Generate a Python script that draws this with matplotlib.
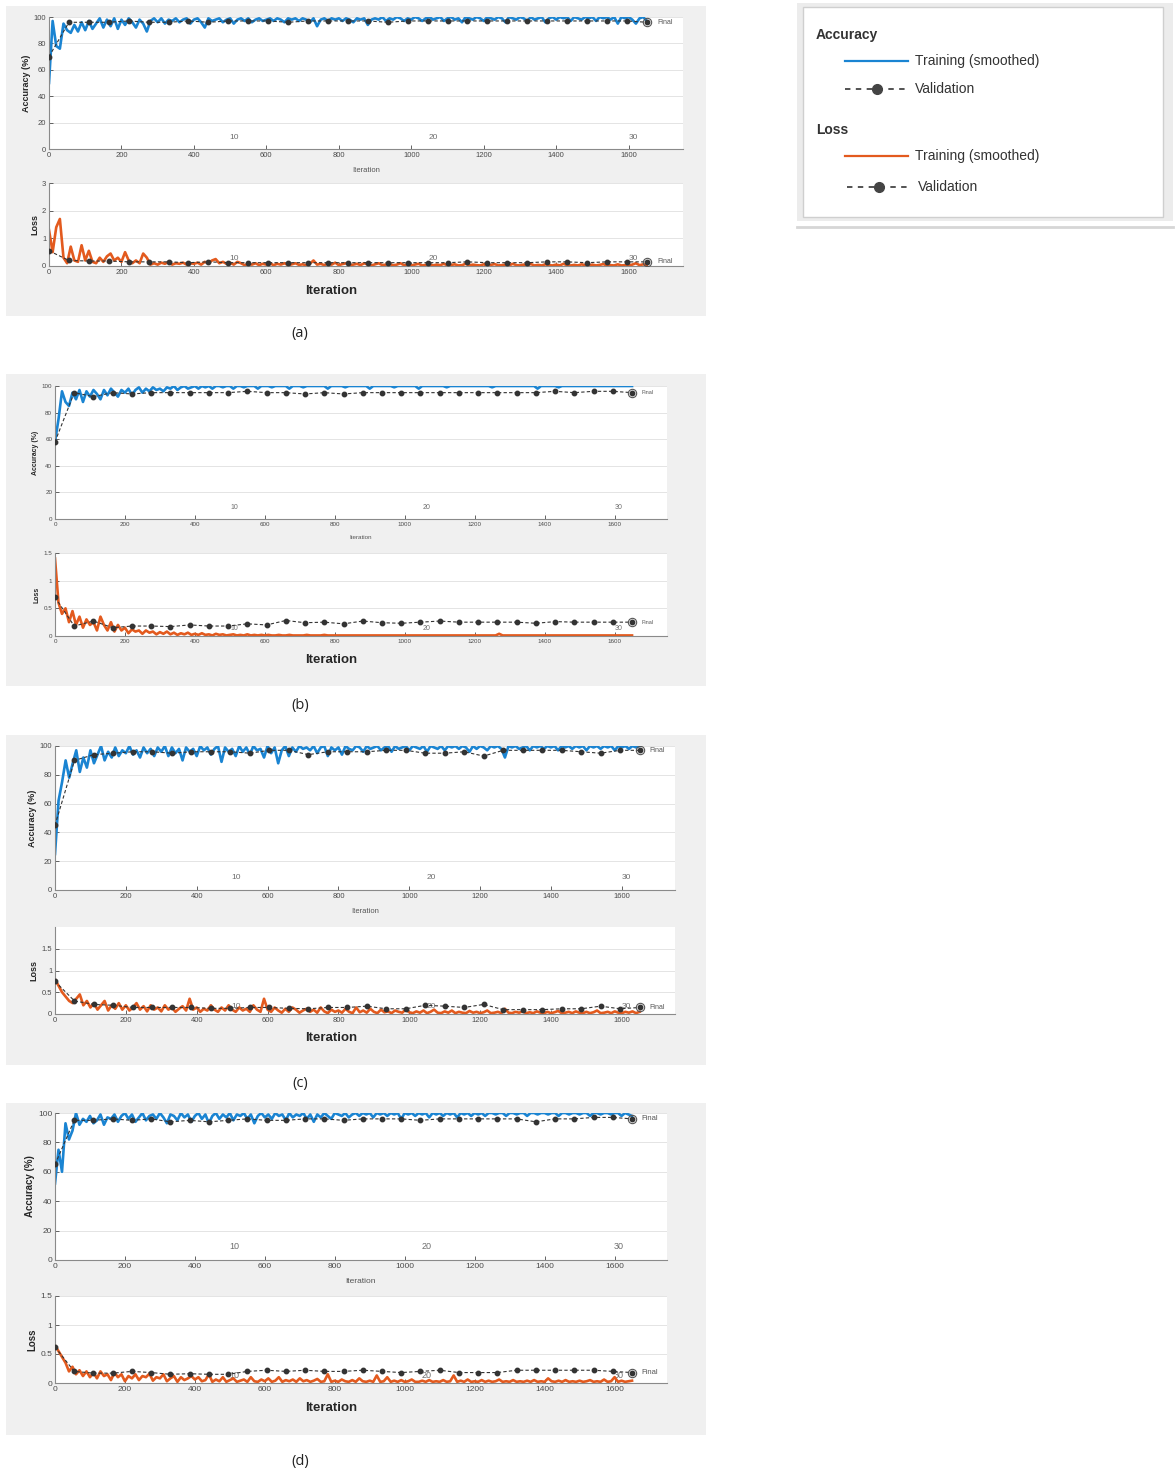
import numpy as np
import matplotlib
matplotlib.use("Agg")
import matplotlib.pyplot as plt
from matplotlib.patches import Rectangle
from matplotlib.ticker import FuncFormatter
import matplotlib.transforms as mtransforms

plt.rcParams['font.family'] = ['Liberation Sans', 'DejaVu Sans']

# ---- data ----
n_iter = 1650                      # 30 epochs, 55 iterations each
epochs = [10, 20, 30]
iter_ticks = [0, 200, 400, 600, 800, 1000, 1200, 1400, 1600]

# training curves: one value every 10 iterations (0 .. 1650)
# (a)
acc_a_train = [50, 97, 78, 76, 95, 90, 88, 94, 89, 96,
               90, 97, 91, 95, 99, 92, 98, 93, 99, 91,
               98, 94, 99, 96, 92, 98, 95, 89, 97, 99,
               96, 99, 95, 98, 97, 99, 96, 98, 99, 95,
               98, 99, 96, 92, 99, 97, 98, 99, 96, 98,
               99, 95, 98, 99, 97, 99, 96, 98, 99, 97,
               98, 99, 97, 99, 98, 96, 99, 98, 99, 97,
               99, 98, 96, 99, 93, 98, 99, 97, 99, 98,
               99, 97, 99, 98, 96, 99, 98, 99, 94, 98,
               99, 98, 100, 97, 99, 98, 100, 99, 97, 99,
               98, 100, 99, 97, 99, 100, 98, 99, 100, 97,
               99, 100, 98, 99, 96, 100, 99, 98, 100, 99,
               97, 100, 99, 98, 100, 99, 96, 100, 99, 98,
               100, 99, 97, 100, 98, 99, 100, 96, 99, 100,
               98, 100, 99, 100, 97, 100, 99, 98, 100, 99,
               100, 97, 100, 99, 100, 98, 100, 95, 100, 99,
               100, 98, 95, 99, 100, 97]
acc_a_val = [70, 96, 96, 96, 97, 96, 96, 97, 96, 97, 97, 97, 96, 97, 97, 97,
             97, 96, 97, 97, 97, 97, 97, 97, 97, 97, 97, 97, 97, 97, 96]
loss_a_train = [1.3, 0.5, 1.4, 1.7, 0.3, 0.1, 0.7, 0.2, 0.15, 0.75,
                0.2, 0.55, 0.15, 0.1, 0.3, 0.15, 0.35, 0.45, 0.2, 0.3,
                0.15, 0.5, 0.2, 0.1, 0.2, 0.1, 0.45, 0.3, 0.05, 0.1,
                0.05, 0.12, 0.08, 0.15, 0.05, 0.1, 0.08, 0.12, 0.05, 0.1,
                0.08, 0.12, 0.05, 0.15, 0.1, 0.2, 0.25, 0.1, 0.15, 0.08,
                0.12, 0.05, 0.15, 0.1, 0.03, 0.08, 0.05, 0.1, 0.03, 0.08,
                0.05, 0.1, 0.03, 0.08, 0.05, 0.1, 0.03, 0.06, 0.1, 0.04,
                0.06, 0.03, 0.08, 0.2, 0.05, 0.08, 0.03, 0.1, 0.05, 0.12,
                0.03, 0.07, 0.1, 0.03, 0.05, 0.08, 0.03, 0.1, 0.05, 0.02,
                0.06, 0.1, 0.03, 0.05, 0.08, 0.02, 0.05, 0.1, 0.03, 0.06,
                0.02, 0.05, 0.08, 0.02, 0.04, 0.07, 0.02, 0.05, 0.03, 0.08,
                0.02, 0.04, 0.06, 0.02, 0.03, 0.08, 0.02, 0.05, 0.03, 0.02,
                0.06, 0.02, 0.04, 0.07, 0.02, 0.03, 0.05, 0.02, 0.08, 0.03,
                0.02, 0.05, 0.03, 0.07, 0.02, 0.04, 0.02, 0.06, 0.03, 0.02,
                0.05, 0.02, 0.08, 0.03, 0.02, 0.04, 0.02, 0.06, 0.03, 0.02,
                0.05, 0.02, 0.04, 0.07, 0.02, 0.03, 0.02, 0.06, 0.02, 0.03,
                0.02, 0.05, 0.1, 0.03, 0.06, 0.04]
loss_a_val = [0.55, 0.2, 0.18, 0.18, 0.15, 0.15, 0.15, 0.12, 0.15, 0.12, 0.12,
              0.12, 0.12, 0.12, 0.12, 0.12, 0.12, 0.12, 0.12, 0.12, 0.12, 0.15,
              0.12, 0.12, 0.12, 0.15, 0.15, 0.12, 0.15, 0.15, 0.15]

# (b)
acc_b_train = [58, 75, 96, 88, 85, 95, 90, 97, 88, 96,
               92, 97, 94, 90, 97, 93, 98, 95, 92, 97,
               95, 98, 93, 97, 99, 95, 98, 96, 99, 97,
               98, 96, 99, 98, 100, 97, 99, 100, 98, 99,
               100, 98, 100, 99, 100, 98, 100, 100, 99, 100,
               100, 98, 100, 100, 99, 100, 100, 100, 98, 100,
               100, 100, 99, 100, 100, 100, 100, 98, 100, 100,
               100, 99, 100, 100, 100, 100, 100, 100, 98, 100,
               100, 100, 100, 99, 100, 100, 100, 100, 100, 100,
               98, 100, 100, 100, 100, 100, 100, 99, 100, 100,
               100, 100, 100, 100, 98, 100, 100, 100, 100, 100,
               100, 100, 99, 100, 100, 100, 100, 100, 100, 100,
               100, 100, 100, 100, 100, 99, 100, 100, 100, 100,
               100, 100, 100, 100, 100, 100, 100, 100, 98, 100,
               100, 100, 100, 100, 99, 100, 100, 100, 100, 100,
               100, 100, 100, 100, 100, 100, 100, 100, 100, 100,
               100, 100, 100, 100, 100, 100]
acc_b_val = [58, 95, 92, 95, 94, 95, 95, 95, 95, 95, 96, 95, 95, 94, 95, 94,
             95, 95, 95, 95, 95, 95, 95, 95, 95, 95, 96, 95, 96, 96, 95]
loss_b_train = [1.4, 0.6, 0.4, 0.5, 0.25, 0.45, 0.2, 0.35, 0.15, 0.3,
                0.2, 0.25, 0.1, 0.35, 0.2, 0.1, 0.25, 0.08, 0.2, 0.1,
                0.15, 0.05, 0.12, 0.08, 0.1, 0.04, 0.1, 0.06, 0.08, 0.03,
                0.07, 0.04, 0.08, 0.03, 0.06, 0.02, 0.05, 0.03, 0.06, 0.02,
                0.04, 0.02, 0.05, 0.02, 0.03, 0.01, 0.04, 0.02, 0.03, 0.01,
                0.02, 0.03, 0.01, 0.02, 0.01, 0.03, 0.01, 0.02, 0.01, 0.02,
                0.01, 0.02, 0.01, 0.01, 0.02, 0.01, 0.01, 0.02, 0.01, 0.01,
                0.01, 0.01, 0.02, 0.01, 0.01, 0.01, 0.01, 0.02, 0.01, 0.01,
                0.01, 0.01, 0.01, 0.01, 0.01, 0.01, 0.01, 0.01, 0.01, 0.01,
                0.01, 0.01, 0.01, 0.01, 0.01, 0.01, 0.01, 0.01, 0.01, 0.01,
                0.01, 0.01, 0.01, 0.01, 0.01, 0.01, 0.01, 0.01, 0.01, 0.01,
                0.01, 0.01, 0.01, 0.01, 0.01, 0.01, 0.01, 0.01, 0.01, 0.01,
                0.01, 0.01, 0.01, 0.01, 0.01, 0.01, 0.01, 0.04, 0.01, 0.01,
                0.01, 0.01, 0.01, 0.01, 0.01, 0.01, 0.01, 0.01, 0.01, 0.01,
                0.01, 0.01, 0.01, 0.01, 0.01, 0.01, 0.01, 0.01, 0.01, 0.01,
                0.01, 0.01, 0.01, 0.01, 0.01, 0.01, 0.01, 0.01, 0.01, 0.01,
                0.01, 0.01, 0.01, 0.01, 0.01, 0.01]
loss_b_val = [0.7, 0.18, 0.27, 0.15, 0.18, 0.18, 0.17, 0.2, 0.18, 0.18, 0.22,
              0.2, 0.28, 0.24, 0.25, 0.22, 0.27, 0.24, 0.23, 0.25, 0.27, 0.25,
              0.25, 0.25, 0.25, 0.23, 0.26, 0.25, 0.25, 0.25, 0.25]

# (c)
acc_c_train = [25, 62, 75, 90, 78, 88, 97, 82, 92, 85,
               97, 88, 94, 100, 90, 96, 92, 99, 93, 97,
               95, 100, 94, 97, 92, 99, 95, 98, 93, 99,
               96, 100, 93, 99, 95, 98, 90, 99, 96, 98,
               93, 100, 97, 99, 94, 98, 100, 89, 99, 96,
               98, 93, 100, 96, 99, 94, 100, 97, 98, 92,
               100, 95, 99, 88, 97, 100, 93, 99, 96, 100,
               98, 99, 97, 100, 95, 99, 100, 93, 99, 97,
               99, 94, 100, 98, 97, 100, 99, 96, 100, 98,
               99, 100, 97, 99, 100, 96, 100, 98, 99, 100,
               97, 100, 99, 98, 100, 96, 100, 99, 98, 100,
               97, 100, 99, 100, 98, 100, 99, 96, 100, 98,
               100, 99, 97, 100, 99, 100, 98, 92, 100, 99,
               100, 98, 99, 100, 97, 100, 99, 100, 98, 100,
               99, 100, 97, 100, 99, 100, 98, 100, 99, 100,
               97, 100, 99, 100, 98, 100, 99, 100, 97, 100,
               99, 100, 98, 100, 99, 100]
acc_c_val = [45, 90, 94, 95, 96, 96, 95, 96, 96, 96, 95, 97, 97, 94, 96, 96,
             96, 97, 97, 95, 95, 96, 93, 97, 97, 97, 97, 96, 95, 97, 97]
loss_c_train = [0.8, 0.65, 0.5, 0.4, 0.3, 0.25, 0.35, 0.45, 0.2, 0.3,
                0.15, 0.25, 0.1, 0.2, 0.3, 0.08, 0.2, 0.12, 0.25, 0.1,
                0.2, 0.08, 0.15, 0.25, 0.1, 0.18, 0.06, 0.2, 0.1, 0.15,
                0.06, 0.2, 0.1, 0.15, 0.05, 0.12, 0.18, 0.08, 0.35, 0.1,
                0.15, 0.05, 0.12, 0.08, 0.2, 0.1, 0.05, 0.15, 0.08, 0.2,
                0.1, 0.05, 0.15, 0.08, 0.12, 0.05, 0.2, 0.1, 0.05, 0.35,
                0.1, 0.05, 0.15, 0.08, 0.03, 0.12, 0.05, 0.15, 0.1, 0.03,
                0.08, 0.12, 0.05, 0.1, 0.03, 0.15, 0.06, 0.02, 0.1, 0.05,
                0.08, 0.03, 0.12, 0.05, 0.02, 0.15, 0.04, 0.08, 0.03, 0.12,
                0.05, 0.02, 0.1, 0.04, 0.06, 0.02, 0.08, 0.05, 0.03, 0.1,
                0.04, 0.02, 0.06, 0.03, 0.08, 0.02, 0.05, 0.1, 0.03, 0.02,
                0.06, 0.03, 0.08, 0.02, 0.05, 0.03, 0.02, 0.07, 0.03, 0.05,
                0.02, 0.04, 0.08, 0.02, 0.03, 0.05, 0.02, 0.12, 0.03, 0.02,
                0.05, 0.03, 0.06, 0.02, 0.04, 0.02, 0.06, 0.03, 0.02, 0.05,
                0.02, 0.04, 0.07, 0.02, 0.03, 0.05, 0.02, 0.06, 0.03, 0.02,
                0.05, 0.02, 0.04, 0.08, 0.02, 0.03, 0.05, 0.02, 0.06, 0.03,
                0.02, 0.05, 0.03, 0.06, 0.02, 0.05]
loss_c_val = [0.75, 0.3, 0.22, 0.2, 0.15, 0.15, 0.15, 0.15, 0.13, 0.13, 0.15,
              0.15, 0.13, 0.12, 0.15, 0.15, 0.18, 0.12, 0.12, 0.2, 0.18, 0.15,
              0.22, 0.1, 0.1, 0.1, 0.12, 0.12, 0.18, 0.12, 0.15]

# (d)
acc_d_train = [52, 75, 60, 93, 82, 88, 100, 92, 96, 94,
               98, 93, 95, 99, 92, 97, 96, 99, 94, 98,
               100, 96, 99, 94, 97, 100, 95, 98, 99, 96,
               100, 97, 93, 99, 98, 95, 100, 97, 99, 94,
               98, 100, 96, 99, 93, 98, 100, 96, 99, 97,
               100, 95, 99, 98, 100, 96, 99, 93, 98, 100,
               97, 99, 96, 100, 98, 99, 95, 100, 97, 99,
               98, 100, 96, 99, 94, 99, 97, 100, 98, 96,
               100, 99, 98, 100, 97, 99, 100, 98, 100, 99,
               100, 97, 100, 99, 100, 98, 100, 99, 100, 96,
               100, 99, 100, 98, 100, 99, 100, 97, 100, 99,
               100, 98, 100, 99, 100, 97, 100, 99, 100, 98,
               100, 99, 100, 98, 100, 100, 99, 100, 100, 98,
               100, 100, 99, 100, 100, 98, 100, 100, 99, 100,
               100, 99, 100, 100, 98, 100, 100, 99, 100, 100,
               99, 100, 100, 98, 100, 100, 99, 100, 100, 99,
               100, 100, 98, 100, 99, 98]
acc_d_val = [65, 95, 95, 96, 95, 96, 94, 95, 94, 95, 96, 95, 95, 96, 96, 95,
             96, 96, 96, 95, 96, 96, 96, 96, 96, 94, 96, 96, 97, 97, 96]
loss_d_train = [0.65, 0.55, 0.45, 0.35, 0.2, 0.28, 0.15, 0.22, 0.12, 0.2,
                0.1, 0.18, 0.08, 0.2, 0.12, 0.15, 0.05, 0.18, 0.1, 0.15,
                0.03, 0.12, 0.08, 0.15, 0.05, 0.12, 0.1, 0.16, 0.04, 0.1,
                0.08, 0.15, 0.03, 0.08, 0.12, 0.02, 0.1, 0.05, 0.08, 0.12,
                0.06, 0.1, 0.03, 0.05, 0.15, 0.02, 0.06, 0.03, 0.1, 0.02,
                0.05, 0.08, 0.02, 0.04, 0.06, 0.02, 0.1, 0.03, 0.02, 0.06,
                0.03, 0.08, 0.02, 0.04, 0.1, 0.02, 0.05, 0.03, 0.06, 0.02,
                0.08, 0.03, 0.05, 0.02, 0.04, 0.07, 0.02, 0.03, 0.15, 0.02,
                0.04, 0.02, 0.06, 0.03, 0.02, 0.05, 0.02, 0.08, 0.03, 0.02,
                0.04, 0.02, 0.13, 0.02, 0.03, 0.1, 0.02, 0.04, 0.02, 0.05,
                0.02, 0.03, 0.06, 0.02, 0.02, 0.04, 0.02, 0.05, 0.02, 0.03,
                0.02, 0.05, 0.02, 0.03, 0.13, 0.02, 0.04, 0.02, 0.06, 0.02,
                0.03, 0.02, 0.05, 0.02, 0.04, 0.02, 0.03, 0.06, 0.02, 0.03,
                0.02, 0.05, 0.02, 0.03, 0.02, 0.04, 0.02, 0.05, 0.02, 0.03,
                0.02, 0.08, 0.03, 0.02, 0.04, 0.02, 0.05, 0.02, 0.03, 0.02,
                0.04, 0.02, 0.03, 0.05, 0.02, 0.03, 0.02, 0.06, 0.02, 0.03,
                0.1, 0.02, 0.04, 0.02, 0.03, 0.04]
loss_d_val = [0.62, 0.2, 0.17, 0.17, 0.2, 0.18, 0.15, 0.16, 0.15, 0.15, 0.2,
              0.22, 0.2, 0.22, 0.2, 0.2, 0.22, 0.2, 0.18, 0.2, 0.22, 0.18,
              0.18, 0.18, 0.22, 0.22, 0.22, 0.22, 0.22, 0.2, 0.18]

# ---- styles / layout (pixels) ----
W, H = 1176, 1473
BLUE = '#1a84d2'
ORANGE = '#e35a1e'
VAL = '#333333'

layout = [
    dict(cap='(a)', bg=(6, 6, 706, 316), acc=(49, 17, 683, 149), loss=(49, 183, 683, 266),
         it=291, cy=333, fs=5.5, lfs=6.5, lylim=(0, 3), lticks=[0, 1, 2, 3],
         data=(acc_a_train, acc_a_val, loss_a_train, loss_a_val)),
    dict(cap='(b)', bg=(6, 374, 706, 686), acc=(55, 386, 667, 519), loss=(55, 553, 667, 636),
         it=660, cy=705, fs=4.5, lfs=5, lylim=(0, 1.5), lticks=[0, 0.5, 1, 1.5],
         data=(acc_b_train, acc_b_val, loss_b_train, loss_b_val)),
    dict(cap='(c)', bg=(6, 735, 706, 1065), acc=(55, 746, 675, 890), loss=(55, 927, 675, 1014),
         it=1038, cy=1083, fs=5.5, lfs=6.5, lylim=(0, 2), lticks=[0, 0.5, 1, 1.5],
         data=(acc_c_train, acc_c_val, loss_c_train, loss_c_val)),
    dict(cap='(d)', bg=(6, 1103, 706, 1435), acc=(55, 1113, 667, 1260), loss=(55, 1296, 667, 1383),
         it=1408, cy=1462, fs=6, lfs=7, lylim=(0, 1.5), lticks=[0, 0.5, 1, 1.5],
         data=(acc_d_train, acc_d_val, loss_d_train, loss_d_val)),
]


def rect(box):
    x0, y0, x1, y1 = box
    return [x0 / W, 1 - y1 / H, (x1 - x0) / W, (y1 - y0) / H]


def style(ax, ylim, yticks, ylabel, fs, lfs):
    ax.set_xlim(0, 1750)
    ax.set_ylim(*ylim)
    ax.set_xticks(iter_ticks)
    ax.set_yticks(yticks)
    ax.yaxis.set_major_formatter(FuncFormatter(lambda v, p: f"{v:g}"))
    ax.tick_params(direction='in', length=3, width=0.6, labelsize=fs,
                   colors='#4a4a4a', pad=2)
    for s in ['top', 'right']:
        ax.spines[s].set_visible(False)
    for s in ['left', 'bottom']:
        ax.spines[s].set_color('#8a8a8a')
        ax.spines[s].set_linewidth(0.8)
    ax.grid(axis='y', color='#e4e4e4', lw=0.7)
    ax.set_axisbelow(True)
    ax.set_ylabel(ylabel, fontsize=lfs, color='#262626', fontweight='bold', labelpad=2)
    trans = mtransforms.blended_transform_factory(ax.transData, ax.transAxes)
    for e in epochs:
        ax.text(e * 55 - 38, 0.09, str(e), transform=trans, fontsize=fs + 0.5,
                color='#6e6e6e', ha='center', va='center', zorder=1)


def draw(ax, train, val, color, fs):
    xt = np.linspace(0, n_iter, len(train))
    xv = np.linspace(0, n_iter, len(val))
    ax.plot(xt, train, color=color, lw=1.9, zorder=2)
    ax.plot(xv, val, color=VAL, lw=0.8, ls='--', dashes=(3, 2), marker='o',
            ms=3.2, mfc=VAL, mec=VAL, zorder=3)
    ax.plot(xv[-1], val[-1], 'o', ms=6, mfc='none', mec='#555555', mew=0.8, zorder=4)
    ax.text(xv[-1] + 28, val[-1], 'Final', fontsize=fs - 0.5, color='#555555',
            ha='left', va='center')


fig = plt.figure(figsize=(W / 100, H / 100), dpi=100, facecolor='white')
bg = fig.add_axes([0, 0, 1, 1], zorder=0)
bg.set_xlim(0, W)
bg.set_ylim(H, 0)
bg.axis('off')

for p in layout:
    x0, y0, x1, y1 = p['bg']
    bg.add_patch(Rectangle((x0, y0), x1 - x0, y1 - y0, facecolor='#f0f0f0', edgecolor='none'))
    acc_tr, acc_v, loss_tr, loss_v = p['data']

    ax1 = fig.add_axes(rect(p['acc']), zorder=1)
    style(ax1, (0, 100), [0, 20, 40, 60, 80, 100], 'Accuracy (%)', p['fs'], p['lfs'])
    draw(ax1, acc_tr, acc_v, BLUE, p['fs'])
    ax1.set_xlabel('Iteration', fontsize=p['fs'], color='#555555', labelpad=6)

    ax2 = fig.add_axes(rect(p['loss']), zorder=1)
    style(ax2, p['lylim'], p['lticks'], 'Loss', p['fs'], p['lfs'])
    draw(ax2, loss_tr, loss_v, ORANGE, p['fs'])

    bg.text(331, p['it'], 'Iteration', fontsize=9.5, fontweight='bold', color='#262626',
            ha='center', va='center')
    bg.text(300, p['cy'], p['cap'], fontsize=10.5, color='#222222', ha='center',
            va='center', family=['Open Sans', 'DejaVu Sans'])

# legend box on the right
bg.add_patch(Rectangle((797, 3), 376, 218, facecolor='#ececec', edgecolor='none'))
bg.add_patch(Rectangle((803, 7), 360, 210, facecolor='white', edgecolor='#cfcfcf', lw=1))
bg.plot([797, 1173], [227, 227], color='#d6d6d6', lw=2)
LFS = 10
bg.text(816, 35, 'Accuracy', fontsize=LFS, fontweight='bold', color='#333333', va='center')
bg.plot([845, 908], [61, 61], color=BLUE, lw=1.6)
bg.text(915, 61, 'Training (smoothed)', fontsize=LFS, color='#333333', va='center')
bg.plot([845, 908], [89, 89], color='#444444', lw=1.3, ls='--', dashes=(3, 3))
bg.plot([877], [89], 'o', ms=7, color='#444444')
bg.text(915, 89, 'Validation', fontsize=LFS, color='#333333', va='center')
bg.text(816, 130, 'Loss', fontsize=LFS, fontweight='bold', color='#333333', va='center')
bg.plot([845, 908], [156, 156], color=ORANGE, lw=1.6)
bg.text(915, 156, 'Training (smoothed)', fontsize=LFS, color='#333333', va='center')
bg.plot([847, 910], [187, 187], color='#444444', lw=1.3, ls='--', dashes=(3, 3))
bg.plot([879], [187], 'o', ms=7, color='#444444')
bg.text(918, 187, 'Validation', fontsize=LFS, color='#333333', va='center')

fig.savefig('out.png', dpi=100, facecolor='white')
